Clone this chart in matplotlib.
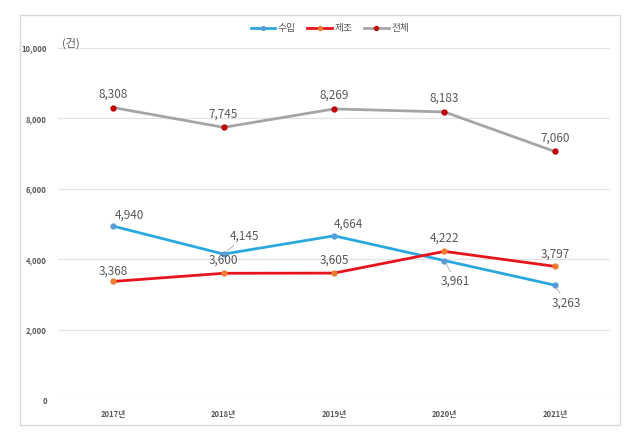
import matplotlib
matplotlib.use("Agg")
import matplotlib.pyplot as plt
from matplotlib.patches import Rectangle

plt.rcParams['font.family'] = ['Noto Sans CJK KR', 'DejaVu Sans']

years = ["2017년", "2018년", "2019년", "2020년", "2021년"]
import_vals = [4940, 4145, 4664, 3961, 3263]
manuf_vals = [3368, 3600, 3605, 4222, 3797]
total_vals = [8308, 7745, 8269, 8183, 7060]
series_names = ["수입", "제조", "전체"]
yticks = [0, 2000, 4000, 6000, 8000, 10000]

fig = plt.figure(figsize=(6.4, 4.4), dpi=100)
fig.patches.append(Rectangle((20/640, 1-425/440), 600/640, 410/440, transform=fig.transFigure,
                             fill=False, edgecolor='#D9D9D9', linewidth=1.0))
ax = fig.add_axes([58/640, 1-400/440, 552/640, 352/440])

x = list(range(len(years)))
ax.plot(x, import_vals, color='#2AA9E0', lw=2, marker='o', ms=3.5, mfc='#5B9BD5', mec='#5B9BD5', label=series_names[0], zorder=3)
ax.plot(x, manuf_vals, color='#E8141B', lw=2, marker='o', ms=3.5, mfc='#ED7D31', mec='#ED7D31', label=series_names[1], zorder=3)
ax.plot(x, total_vals, color='#A5A5A5', lw=2, marker='o', ms=3.5, mfc='#C00000', mec='#C00000', label=series_names[2], zorder=3)

ax.set_xlim(-0.5, len(years) - 0.5)
ax.set_ylim(0, 10000)
ax.set_yticks(yticks)
ax.set_yticklabels([f"{v:,}" for v in yticks], fontsize=5.5, color='#595959', fontweight='bold')
ax.set_xticks(x)
ax.set_xticklabels(years, fontsize=5.5, color='#595959', fontweight='bold')
ax.tick_params(length=0, pad=8)
ax.tick_params(axis='x', pad=7)
for s in ax.spines.values():
    s.set_visible(False)
ax.grid(axis='y', color='#E3E3E3', lw=0.9)
ax.set_axisbelow(True)

tc = '#595959'
fs = 8.5
# total labels
for i, v in enumerate(total_vals):
    ax.annotate(f"{v:,}", (i, v), xytext=(0, 5), textcoords='offset points', ha='center', va='bottom', fontsize=fs, color=tc)
# import labels
imp_off = [(12, 3), (15, 8), (10, 4), (8, -10), (8, -8)]
for i, v in enumerate(import_vals):
    dx, dy = imp_off[i]
    lead = i in (1, 3, 4)
    ax.annotate(f"{v:,}", (i, v), xytext=(dx, dy), textcoords='offset points',
                ha='center', va='bottom' if dy > 0 else 'top', fontsize=fs, color=tc,
                arrowprops=dict(arrowstyle='-', color='#A6A6A6', lw=0.6, shrinkA=0, shrinkB=2) if lead else None)
# manuf labels
man_off = [(0, 3), (0, 5), (0, 5), (0, 5), (0, 4)]
for i, v in enumerate(manuf_vals):
    dx, dy = man_off[i]
    ax.annotate(f"{v:,}", (i, v), xytext=(dx, dy), textcoords='offset points', ha='center', va='bottom', fontsize=fs, color=tc)

ax.text(4/552, 1.0 + 5/352, "(건)", transform=ax.transAxes, fontsize=8, color=tc, va='center', ha='left')

leg = fig.legend(loc='center', bbox_to_anchor=(330/640, 1-28/440), ncol=3, frameon=False, fontsize=7,
                 handlelength=2.5, columnspacing=1.2, handletextpad=0.3, labelcolor=tc, markerscale=0.8)

fig.savefig("out.png", dpi=100, facecolor='white')
